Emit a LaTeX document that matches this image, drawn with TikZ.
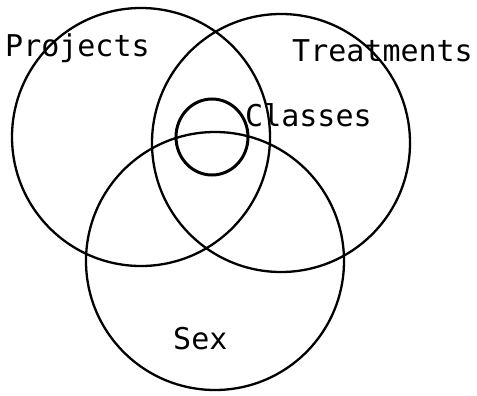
\documentclass[tikz,border=0pt]{standalone}
\usepackage{fontspec}
\usetikzlibrary{shapes.geometric}
\newfontfamily\venntt{DejaVu Sans Mono}
\tikzset{
  setring/.style={draw, circle, line width=2.3pt, inner sep=0pt, minimum size=258pt},
  setlabel/.style={inner sep=0pt, anchor=base west, font=\venntt\fontsize{30}{32}\selectfont}
}
\begin{document}
\begin{tikzpicture}[x=1pt,y=-1pt]
  \useasboundingbox (0,0) rectangle (477,396);
  \foreach \name/\cx/\cy in {projects/141/137, treatments/281/143, sex/215/261} {
    \node[setring] (\name) at (\cx,\cy) {};
  }
  \node[draw, ellipse, line width=3pt, inner sep=0pt,
        minimum width=72pt, minimum height=76pt] (classes) at (212,137) {};
  \node[setlabel] (projectslabel) at (5,57) {Projects};
  \node[setlabel] (treatmentslabel) at (292,62) {Treatments};
  \node[setlabel] (classeslabel) at (245,127) {Classes};
  \node[setlabel] (sexlabel) at (173,349) {Sex};
\end{tikzpicture}
\end{document}
